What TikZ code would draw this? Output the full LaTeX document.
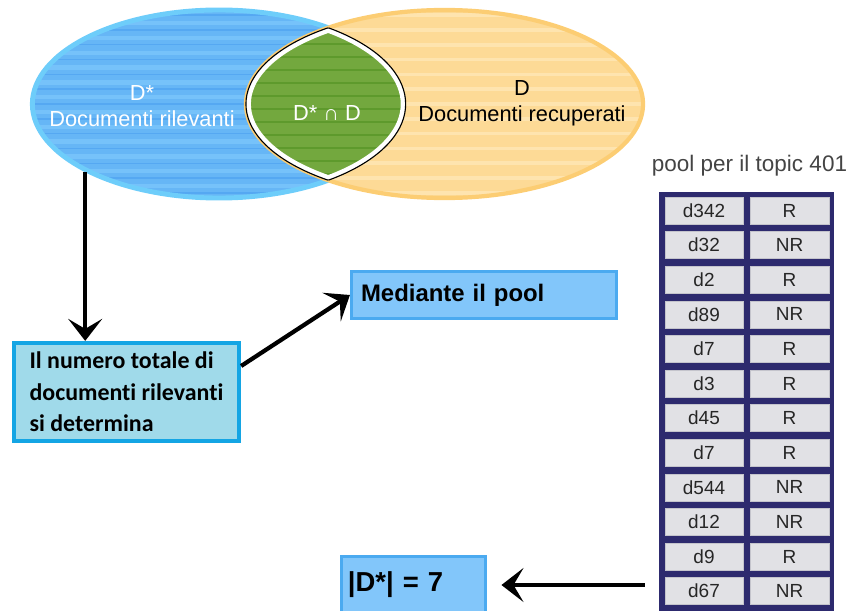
\documentclass[tikz,border=0pt]{standalone}
\usepackage{fontspec}
\setmainfont{Liberation Sans}
\newfontfamily\carlito[Ligatures=CommonOff]{Carlito}
\usepackage{xcolor}
\definecolor{vennblue}{HTML}{66B6F6}
\definecolor{vennbluedark}{HTML}{55A8F2}
\definecolor{vennbluelight}{HTML}{76C2FA}
\definecolor{vennblueline}{HTML}{6ECDFA}
\definecolor{vennorange}{HTML}{FDDA96}
\definecolor{vennorangelight}{HTML}{FEE4AF}
\definecolor{vennorangeline}{HTML}{FCCD73}
\definecolor{lensgreen}{HTML}{73A83E}
\definecolor{lensgreendark}{HTML}{5E9A2C}
\definecolor{numfill}{HTML}{A0DAEA}
\definecolor{numline}{HTML}{14A5E4}
\definecolor{poolfill}{HTML}{82C6FA}
\definecolor{poolline}{HTML}{4BAAF0}
\definecolor{poolnavy}{HTML}{2D2A6E}
\definecolor{cellgray}{HTML}{E1E1E5}
\definecolor{cellline}{HTML}{C4C4CC}
\definecolor{titlegray}{HTML}{444444}
\usetikzlibrary{arrows.meta,positioning,shapes.geometric,calc}

\begin{document}
\begin{tikzpicture}[
  x=0.025cm, y=-0.025cm,
  setbox/.style={ellipse, inner sep=0pt, minimum height=4.7cm},
  bluestripes/.style={path picture={
    \foreach \k in {-6,...,6} {
      \draw[vennbluedark, line width=1pt] ([yshift=\k*0.37cm]path picture bounding box.west) -- ([yshift=\k*0.37cm]path picture bounding box.east);
      \draw[vennbluelight, line width=3pt] ([yshift=\k*0.37cm+0.17cm]path picture bounding box.west) -- ([yshift=\k*0.37cm+0.17cm]path picture bounding box.east);
    }}},
  orangestripes/.style={path picture={
    \foreach \k in {-6,...,6} {
      \draw[vennorangelight, line width=2.6pt] ([yshift=\k*0.37cm]path picture bounding box.west) -- ([yshift=\k*0.37cm]path picture bounding box.east);
    }}},
  setlab/.style={align=center, font=\fontsize{15.5}{18.5}\selectfont},
  numbox/.style={rectangle, draw=numline, fill=numfill, line width=3pt, align=left, font=\carlito\bfseries\fontsize{17}{22.5}\selectfont},
  pbox/.style={rectangle, draw=poolline, fill=poolfill, line width=2.2pt, align=left},
  cell/.style={rectangle, fill=cellgray, draw=cellline, line width=0.4pt, minimum height=0.675cm, inner sep=0pt, font=\fontsize{13.5}{16}\selectfont, text=black!85},
  arw/.style={-{Stealth[length=0.55cm, width=0.85cm, inset=0.25cm]}, line width=3pt, black},
]
\useasboundingbox (0,0) rectangle (852,610);
% ---------------- the two sets
\node[setbox, minimum width=9.33cm, fill=vennblue, draw=vennblueline, line width=3.5pt, bluestripes] (dstar) at (219,104) {};
\node[setbox, minimum width=9.925cm, fill=vennorange, draw=vennorangeline, line width=3pt, orangestripes] (dret) at (444.5,104) {};
% ---------------- intersection
\begin{scope}
  \clip (219,104) ellipse [x radius=4.665cm, y radius=2.35cm];
  \clip (444.5,104) ellipse [x radius=4.9625cm, y radius=2.35cm];
  \fill[lensgreen] (230,20) rectangle (420,200);
  \foreach \y in {44,57,...,190} \draw[lensgreendark, line width=1.3pt] (230,\y) -- (420,\y);
  \draw[white, line width=7pt] (219,104) ellipse [x radius=4.665cm, y radius=2.35cm];
  \draw[white, line width=7pt] (444.5,104) ellipse [x radius=4.9625cm, y radius=2.35cm];
\end{scope}
\begin{scope}
  \clip (444.5,104) ellipse [x radius=4.9625cm, y radius=2.35cm];
  \draw[black, line width=0.8pt] (219,104) ellipse [x radius=4.665cm, y radius=2.35cm];
\end{scope}
\begin{scope}
  \clip (219,104) ellipse [x radius=4.665cm, y radius=2.35cm];
  \draw[black, line width=0.8pt] (444.5,104) ellipse [x radius=4.9625cm, y radius=2.35cm];
\end{scope}
\node[setlab, white] (dstarlab) at (142,106) {D*\\Documenti rilevanti};
\node[setlab, black] (dretlab) at (522,103) {D\\Documenti recuperati};
\node[setlab, white] (bothlab) at (327,113) {D* ∩ D};
% ---------------- boxes
\node[numbox, minimum width=5.625cm, minimum height=2.45cm] (numbox) at (126.5,392) {Il numero totale di\\documenti rilevanti\\si determina};
\node[pbox, minimum height=1.175cm, text width=6.145cm, inner xsep=0.24cm, font=\bfseries\fontsize{17}{20}\selectfont] (mezzo) at (484,295) {Mediante il pool};
\node[pbox, minimum height=1.425cm, text width=3.28cm, inner xsep=0.16cm, font=\bfseries\fontsize{19.5}{22}\selectfont] (dsize) at (413.5,585) {|D*| = 7};
% ---------------- pool table
\node[font=\fontsize{16}{19}\selectfont, text=titlegray] (pooltitle) at (749.5,166) {pool per il topic 401};
\node[fill=poolnavy, inner sep=0pt, minimum width=4.375cm, minimum height=10.6cm, anchor=north west] (pool) at (659,192) {};
\foreach \d/\r [count=\i] in {d342/R, d32/NR, d2/R, d89/NR, d7/R, d3/R, d45/R, d7/R, d544/NR, d12/NR, d9/R, d67/NR} {
  \node[cell, minimum width=1.95cm] (doc\i) at (704,{175.9+34.6*\i}) {\d};
  \node[cell, minimum width=1.975cm] (rel\i) at (789.5,{175.9+34.6*\i}) {\r};
}
% ---------------- arrows
\draw[arw] (dstar.207) -- (dstar.207 |- numbox.north);
\draw[arw] ([yshift=0.65cm]numbox.east) -- (mezzo.west);
\draw[arw, shorten >=0.36cm] ($(dsize.east -| doc12.west)+(-20,0)$) -- (dsize.east);
\end{tikzpicture}
\end{document}
